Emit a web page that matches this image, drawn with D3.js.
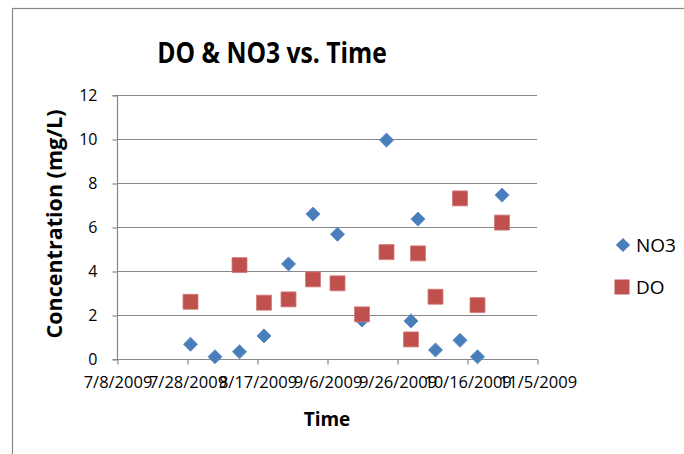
<!DOCTYPE html>
<html>
<head>
<meta charset="utf-8">
<script src="https://cdn.jsdelivr.net/npm/d3@7"></script>
<style>
  body { margin: 0; background: #fff; }
  text { font-family: "Open Sans", sans-serif; }
</style>
</head>
<body>
<div id="chart"></div>
<script>

// sample dates shared by both series
var sampleDates = ["7/29/2009", "8/5/2009", "8/12/2009", "8/19/2009", "8/26/2009", "9/2/2009", "9/9/2009",
  "9/16/2009", "9/23/2009", "9/30/2009", "10/2/2009", "10/7/2009", "10/14/2009", "10/19/2009", "10/26/2009"];
var no3Values = [0.67, 0.1, 0.33, 1.05, 4.32, 6.59, 5.67, 1.77, 9.95, 1.73, 6.36, 0.41, 0.85, 0.1, 7.45];
var doValues  = [2.6, null, 4.27, 2.56, 2.71, 3.62, 3.44, 2.03, 4.86, 0.89, 4.8, 2.83, 7.3, 2.45, 6.2];

// axis ticks
var xTickLabels = ["7/8/2009", "7/28/2009", "8/17/2009", "9/6/2009", "9/26/2009", "10/16/2009", "11/5/2009"];
var yTickValues = [0, 2, 4, 6, 8, 10, 12];

var parseDate = d3.timeParse("%m/%d/%Y");
var fmtTick = function(d) { return (d.getMonth() + 1) + "/" + d.getDate() + "/" + d.getFullYear(); };

// set the dimensions of the graph
var width = 684, height = 454;
var plot = {left: 117, right: 537, top: 95, bottom: 359};

var svg = d3.select("#chart")
  .append("svg")
    .attr("width", width)
    .attr("height", height);

// chart area border
svg.append("rect")
  .attr("x", 12.5).attr("y", 8.5)
  .attr("width", 700).attr("height", 500)
  .attr("fill", "#fff")
  .attr("stroke", "#888")
  .attr("stroke-width", 1.2);

var xTicks = xTickLabels.map(parseDate);

var x = d3.scaleTime()
  .domain([xTicks[0], xTicks[xTicks.length - 1]])
  .range([plot.left, plot.right]);

var y = d3.scaleLinear()
  .domain([0, 12])
  .range([plot.bottom, plot.top]);

// gridlines
svg.append("g")
  .selectAll("line")
  .data(yTickValues.slice(1))
  .enter()
  .append("line")
    .attr("x1", plot.left).attr("x2", plot.right)
    .attr("y1", function(d) { return y(d) + 0.5; })
    .attr("y2", function(d) { return y(d) + 0.5; })
    .attr("stroke", "#878787")
    .attr("stroke-width", 1.2);

// Y axis
var yAxis = svg.append("g")
  .attr("transform", "translate(" + (plot.left + 0.5) + ",0.5)")
  .call(d3.axisLeft(y).tickValues(yTickValues).tickSize(5).tickPadding(15).tickFormat(d3.format("d")));
yAxis.selectAll("line, path").attr("stroke", "#878787").attr("stroke-width", 1.2);
yAxis.select(".domain").attr("d", "M-5," + y(12) + "H0V" + y(0));
yAxis.selectAll("text")
  .style("font-family", "'Open Sans', sans-serif")
  .style("font-size", "16px")
  .attr("fill", "#000");

// X axis
var xAxis = svg.append("g")
  .attr("transform", "translate(0.5," + (plot.bottom + 0.5) + ")")
  .call(d3.axisBottom(x).tickValues(xTicks).tickSize(5).tickPadding(12).tickFormat(fmtTick));
xAxis.selectAll("line, path").attr("stroke", "#878787").attr("stroke-width", 1.2);
xAxis.select(".domain").attr("d", "M" + (plot.left - 5) + ",0H" + plot.right);
xAxis.selectAll("text")
  .style("font-family", "'Open Sans', sans-serif")
  .style("font-size", "16.5px")
  .attr("fill", "#000");

// titles
svg.append("text")
  .attr("transform", "translate(272,63) scale(0.88,1)")
  .attr("text-anchor", "middle")
  .style("font-size", "28px")
  .style("font-weight", "bold")
  .text("DO & NO3 vs. Time");

svg.append("text")
  .attr("x", 327).attr("y", 426)
  .attr("text-anchor", "middle")
  .style("font-size", "19px")
  .style("font-weight", "bold")
  .text("Time");

svg.append("text")
  .attr("transform", "translate(62,224) rotate(-90)")
  .attr("text-anchor", "middle")
  .style("font-size", "21.5px")
  .style("font-weight", "bold")
  .text("Concentration (mg/L)");

var diamond = d3.symbol().type(d3.symbolSquare).size(100);
var square = d3.symbol().type(d3.symbolSquare).size(225);

var no3 = sampleDates.map(function(d, i) { return {date: parseDate(d), value: no3Values[i]}; });
var dox = sampleDates.map(function(d, i) { return {date: parseDate(d), value: doValues[i]}; })
  .filter(function(d) { return d.value !== null; });

// NO3 points
svg.append("g")
  .selectAll("path")
  .data(no3)
  .enter()
  .append("path")
    .attr("d", diamond)
    .attr("transform", function(d) { return "translate(" + x(d.date) + "," + y(d.value) + ") rotate(45)"; })
    .attr("fill", "#4A7EBB")
    .attr("stroke", "#5B8CC6")
    .attr("stroke-width", 0.8);

// DO points
svg.append("g")
  .selectAll("path")
  .data(dox)
  .enter()
  .append("path")
    .attr("d", square)
    .attr("transform", function(d) { return "translate(" + x(d.date) + "," + y(d.value) + ")"; })
    .attr("fill", "#C0504D")
    .attr("stroke", "#D27C7A")
    .attr("stroke-width", 0.8);

// legend
var legend = svg.append("g");
legend.append("path")
  .attr("d", diamond)
  .attr("transform", "translate(623,245) rotate(45)")
  .attr("fill", "#4A7EBB");
legend.append("text")
  .attr("x", 636).attr("y", 252)
  .style("font-size", "19px")
  .text("NO3");
legend.append("path")
  .attr("d", square)
  .attr("transform", "translate(622,287)")
  .attr("fill", "#C0504D");
legend.append("text")
  .attr("x", 636).attr("y", 294)
  .style("font-size", "19px")
  .text("DO");

</script>
</body>
</html>
